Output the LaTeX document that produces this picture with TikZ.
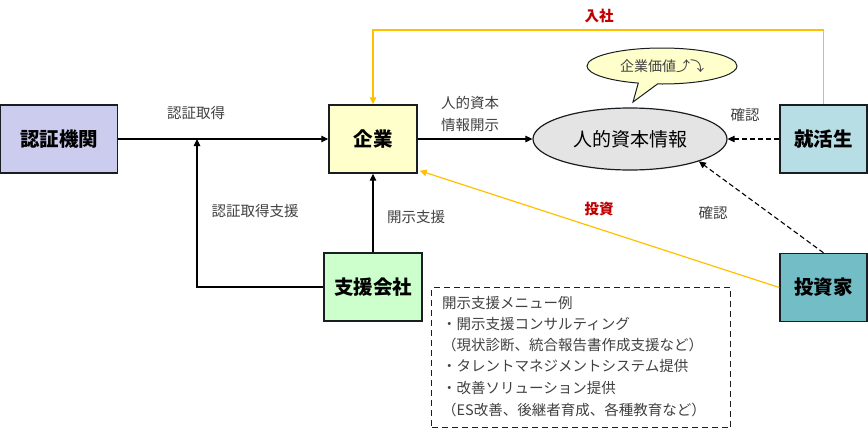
\documentclass[tikz,border=0pt]{standalone}
\usepackage{fontspec}
\setmainfont{Noto Sans CJK JP}
\usetikzlibrary{arrows.meta,shapes.geometric,shapes.callouts}
\definecolor{cNinsho}{RGB}{204,204,238}
\definecolor{cKigyo}{RGB}{255,255,204}
\definecolor{cShien}{RGB}{204,255,204}
\definecolor{cShukatsu}{RGB}{183,222,228}
\definecolor{cToushi}{RGB}{115,189,199}
\definecolor{cEll}{RGB}{228,228,228}
\definecolor{cYel}{RGB}{255,192,0}
\definecolor{cRed}{RGB}{192,0,0}
\definecolor{cTxt}{RGB}{64,64,64}
\definecolor{cLine}{RGB}{25,30,35}
\begin{document}
\begin{tikzpicture}[x=1pt,y=-1pt,
  box/.style={draw=cLine,line width=1.4pt,inner sep=0pt,font=\fontsize{19.5}{21}\selectfont\bfseries},
  lbl/.style={font=\fontsize{14.5}{16}\selectfont,text=cTxt,inner sep=0pt},
  rlbl/.style={font=\fontsize{14.5}{16}\selectfont\bfseries,text=cRed,inner sep=0pt},
  mtxt/.style={font=\fontsize{14.5}{16}\selectfont,text=cTxt,inner sep=0pt,anchor=west},
  arr/.style={draw=black,line width=1.1pt,-{Triangle[length=7pt,width=6.5pt]}},
  darr/.style={arr,dashed,dash pattern=on 5pt off 3pt},
  yarr/.style={draw=cYel,line width=1.2pt,-{Triangle[length=7pt,width=6.5pt]}}]
\useasboundingbox (0,0) rectangle (868,429);

% boxes
\node[box,fill=cNinsho,minimum width=117pt,minimum height=68pt] (ninsho) at (59,139) {認証機関};
\node[box,fill=cKigyo,minimum width=88pt,minimum height=68pt] (kigyo) at (373,139) {企業};
\node[box,fill=cShien,minimum width=98pt,minimum height=68pt] (shien) at (373,287) {支援会社};
\node[box,fill=cShukatsu,minimum width=87pt,minimum height=68pt] (shukatsu) at (823.5,139) {就活生};
\node[box,fill=cToushi,minimum width=87pt,minimum height=68pt] (toushika) at (823.5,287.5) {投資家};

% ellipse
\node[ellipse,draw=cLine,line width=1.2pt,fill=cEll,minimum width=194pt,minimum height=62pt,inner sep=0pt,
  font=\fontsize{19}{21}\selectfont] (jinteki) at (630,139) {人的資本情報};

% callout
\node[ellipse callout,draw=cLine,line width=1pt,fill=cKigyo,minimum width=150pt,minimum height=36pt,inner sep=0pt,
  callout absolute pointer={(633,102)},font=\fontsize{14}{16}\selectfont,text=cTxt] (bubble) at (662,66) {企業価値⤴⤵};

% connectors
\coordinate (junc) at (197,139);
\coordinate (ytop) at (600,30);
\draw[arr] (ninsho.east) -- (kigyo.west);
\draw[arr] (shien.west) -| (junc);
\draw[arr] (shien.north) -- (kigyo.south);
\draw[arr] (kigyo.east) -- (jinteki.west);
\draw[darr] (shukatsu.west) -- (jinteki.east);
\draw[darr] (toushika.north) -- (jinteki.-18);
\draw[yarr] (shukatsu.north) |- (ytop) -| (kigyo.north);
\draw[yarr] (toushika.west) -- ([xshift=2pt,yshift=3pt]kigyo.south east);

% labels
\node[lbl] (l1) at (196,113) {認証取得};
\node[lbl] (l2) at (255,211) {認証取得支援};
\node[lbl] (l3) at (416,217) {開示支援};
\node[lbl] (l4) at (470,103) {人的資本};
\node[lbl] (l5) at (470,125) {情報開示};
\node[lbl] (l6) at (745,115) {確認};
\node[lbl] (l7) at (713,213) {確認};
\node[rlbl] (l8) at (599,16) {入社};
\node[rlbl] (l9) at (599,209) {投資};

% menu box
\node[draw=cLine,line width=1pt,dashed,dash pattern=on 6pt off 4pt,minimum width=299pt,minimum height=140pt,inner sep=0pt,anchor=north west] (menu) at (431,287) {};
\node[mtxt] (m1) at (442,303) {開示支援メニュー例};
\node[mtxt] (m2) at (442,324) {・開示支援コンサルティング};
\node[mtxt] (m3) at (442,345) {（現状診断、統合報告書作成支援など）};
\node[mtxt] (m4) at (442,366) {・タレントマネジメントシステム提供};
\node[mtxt] (m5) at (442,388) {・改善ソリューション提供};
\node[mtxt] (m6) at (442,410) {（ES改善、後継者育成、各種教育など）};
\end{tikzpicture}
\end{document}
